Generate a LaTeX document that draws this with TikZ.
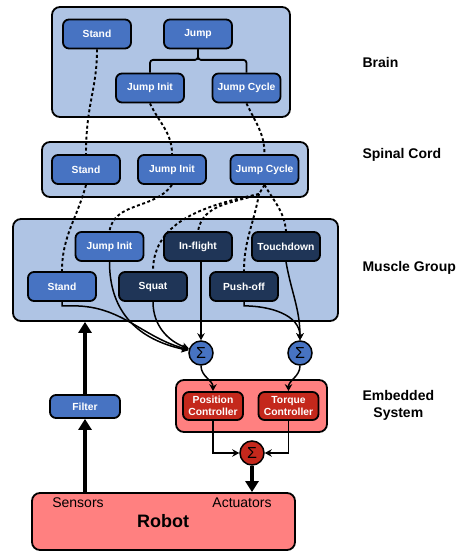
\documentclass[tikz,border=0pt]{standalone}
\usepackage{fontspec}
\setmainfont{Liberation Sans}
\usepackage{tikz}
\usetikzlibrary{arrows.meta}

\definecolor{boxblue}{HTML}{AFC4E4}
\definecolor{nodeblue}{HTML}{4773C2}
\definecolor{navy}{HTML}{1F3557}
\definecolor{boxred}{HTML}{FF8080}
\definecolor{nodered}{HTML}{C4281C}

\begin{document}
\begin{tikzpicture}[x=1pt,y=1pt,
  layer/.style={draw,line width=1.8pt,rounded corners=8pt,fill=boxblue},
  block/.style={draw,line width=1.8pt,rounded corners=6pt,fill=nodeblue,text=white,
    font=\fontsize{10.3}{12}\selectfont\bfseries,minimum width=68pt,minimum height=29pt,inner sep=1pt},
  dark/.style={block,fill=navy},
  ctrl/.style={block,fill=nodered,minimum width=60pt,minimum height=28pt,align=center,
    font=\fontsize{10.3}{11.5}\selectfont\bfseries},
  sum/.style={draw,circle,line width=1.5pt,fill=nodeblue,minimum size=24pt,inner sep=0pt,
    font=\fontsize{16}{16}\selectfont},
  level/.style={anchor=west,font=\fontsize{14}{17}\selectfont\bfseries,align=center},
  cmd/.style={line width=1.9pt,dash pattern=on 3pt off 2.5pt},
  sig/.style={line width=1.5pt,-{Stealth[length=7pt,width=7.5pt]}},
  big/.style={line width=3.8pt,-{Triangle[length=11pt,width=13pt]}}
]
\useasboundingbox (0,0) rectangle (461,552);

% layers
\node[layer,minimum width=238pt,minimum height=110pt] (brain) at (171,490) {};
\node[layer,minimum width=266pt,minimum height=55pt] (spinal) at (175,382.5) {};
\node[layer,minimum width=325pt,minimum height=102pt] (muscle) at (175.5,282) {};
\node[layer,fill=boxred,minimum width=151pt,minimum height=52pt] (embedded) at (251.5,146) {};
\node[layer,fill=boxred,minimum width=263pt,minimum height=57pt] (robot) at (163.5,30.5) {};

\node[level] (lbrain) at (359,490) {Brain};
\node[level] (lspinal) at (359,397) {Spinal Cord};
\node[level] (lmuscle) at (359,284) {Muscle Group};
\node[level] (lembedded) at (359,146.5) {Embedded\\System};

% brain
\node[block] (bStand) at (97,518) {Stand};
\node[block] (bJump) at (198,518) {Jump};
\node[block] (bInit) at (150,464) {Jump Init};
\node[block] (bCycle) at (246.5,464) {Jump Cycle};
\draw[line width=1.8pt,rounded corners=3pt] (bJump.south) -- ++(0,-10.5) -| (bInit.north);
\draw[line width=1.8pt,rounded corners=3pt] (bJump.south) -- ++(0,-10.5) -| (bCycle.north);

% spinal cord
\node[block] (sStand) at (86,382.5) {Stand};
\node[block] (sInit) at (172,382.5) {Jump Init};
\node[block] (sCycle) at (264.5,382.5) {Jump Cycle};

% muscle group
\node[block] (mInit) at (109.5,305.5) {Jump Init};
\node[dark] (mFlight) at (198,305.5) {In-flight};
\node[dark] (mTouch) at (286,305.5) {Touchdown};
\node[block] (mStand) at (62,265.5) {Stand};
\node[dark] (mSquat) at (153,265.5) {Squat};
\node[dark] (mPush) at (244,265.5) {Push-off};

% embedded system
\node[sum] (sum1) at (201,199) {Σ};
\node[sum] (sum2) at (300,199) {Σ};
\node[ctrl] (pos) at (213,146) {Position\\Controller};
\node[ctrl] (torque) at (288.5,146) {Torque\\Controller};
\node[sum,fill=nodered] (sum3) at (252,99) {Σ};

\node[block,minimum width=70pt,minimum height=23pt] (filter) at (85,145.5) {Filter};

% robot
\node[font=\fontsize{14}{16}\selectfont] (sensors) at (78,49) {Sensors};
\node[font=\fontsize{14}{16}\selectfont] (actuators) at (242,49) {Actuators};
\node[font=\fontsize{18}{20}\selectfont\bfseries] (robotname) at (163,31) {Robot};

% commands
\draw[cmd] (bStand.south) .. controls +(0,-40) and +(0,50) .. (sStand.north);
\draw[cmd] (bInit.south) to[out=-65,in=90] (sInit.north);
\draw[cmd] (bCycle.south) to[out=-65,in=90] (sCycle.north);
\draw[cmd] (sStand.south) to[out=-105,in=90] (mStand.north);
\draw[cmd] (sInit.south) to[out=-125,in=80] (mInit.north);
\coordinate (fork) at (259,358);
\draw[cmd] (sCycle.south) -- (fork);
\draw[cmd] (fork) to[out=-168,in=90] (mSquat.north);
\draw[cmd] (fork) to[out=-160,in=80] (mFlight.north);
\draw[cmd] (fork) to[out=-100,in=90] (mPush.north);
\draw[cmd] (sCycle.south) to[out=-60,in=95] (mTouch.north);

% signals
\draw[sig] (mStand.south) -- ++(0,-4) -- ++(12,0) to[out=0,in=165] (sum1);
\draw[sig] (mInit.south) to[out=-90,in=168,looseness=1.1] (sum1);
\draw[sig] (mSquat.south) to[out=-90,in=160] (sum1);
\draw[sig] (sum1.north |- mFlight.south) -- (sum1.north);
\draw[sig] (mTouch.south) to[out=-80,in=90] (sum2.north);
\draw[sig] (mPush.south) -- ++(0,-4) to[out=0,in=90] (sum2.north);
\draw[sig] (sum1.south) to[out=-90,in=90] (pos.north);
\draw[sig] (sum2.south) to[out=-90,in=90] (torque.north);
\draw[sig] (pos.south) |- (sum3.west);
\draw[sig] (torque.south) |- (sum3.east);
\draw[big] (sum3.south) -- (sum3 |- robot.north);
\draw[big] (robot.north -| filter) -- (filter.south);
\draw[big] (filter.north) -- (filter |- muscle.south);

\end{tikzpicture}
\end{document}
